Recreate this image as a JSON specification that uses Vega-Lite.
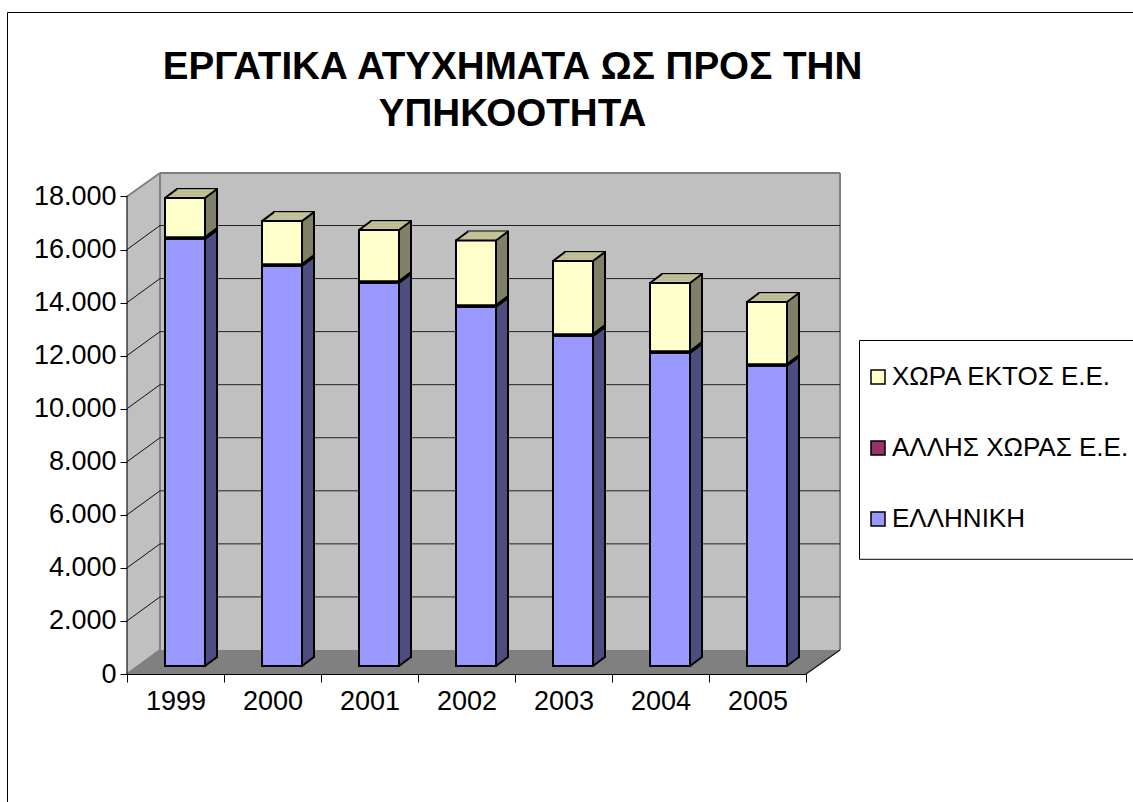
{"$schema":"https://vega.github.io/schema/vega-lite/v6.json","width":713,"height":501,"autosize":"none","padding":{"left":127,"top":173,"right":293,"bottom":128},"background":"white",
"config":{"view":{"stroke":null}},
"datasets":{
"boxes":[{"name":"frame","x":-119.5,"x2":1030,"y":24934,"y2":-6000},{"name":"legend","x":732.5,"x2":1030,"y":12571,"y2":4323}],
"titleLines":[{"text":"ΕΡΓΑΤΙΚΑ ΑΤΥΧΗΜΑΤΑ ΩΣ ΠΡΟΣ ΤΗΝ","x":385.5,"y":22430},{"text":"ΥΠΗΚΟΟΤΗΤΑ","x":385.5,"y":20660}],
"wallLeft":[{"d":0,"lo":0,"hi":18000},{"d":33,"lo":905,"hi":18884}],
"floor":[{"d":0,"lo":0,"hi":0},{"d":33,"lo":0,"hi":905},{"d":679,"lo":0,"hi":905},{"d":713,"lo":905,"hi":905}],
"grid":[{"v":2000,"back":2905},{"v":4000,"back":4905},{"v":6000,"back":6905},{"v":8000,"back":8905},{"v":10000,"back":10905},{"v":12000,"back":12905},{"v":14000,"back":14905},{"v":16000,"back":16905}],
"accidents":[
{"year":"1999","series":"ΕΛΛΗΝΙΚΗ","rank":1,"value":16100},{"year":"1999","series":"ΑΛΛΗΣ ΧΩΡΑΣ Ε.Ε.","rank":2,"value":60},{"year":"1999","series":"ΧΩΡΑ ΕΚΤΟΣ Ε.Ε.","rank":3,"value":1480},
{"year":"2000","series":"ΕΛΛΗΝΙΚΗ","rank":1,"value":15085},{"year":"2000","series":"ΑΛΛΗΣ ΧΩΡΑΣ Ε.Ε.","rank":2,"value":60},{"year":"2000","series":"ΧΩΡΑ ΕΚΤΟΣ Ε.Ε.","rank":3,"value":1625},
{"year":"2001","series":"ΕΛΛΗΝΙΚΗ","rank":1,"value":14444},{"year":"2001","series":"ΑΛΛΗΣ ΧΩΡΑΣ Ε.Ε.","rank":2,"value":60},{"year":"2001","series":"ΧΩΡΑ ΕΚΤΟΣ Ε.Ε.","rank":3,"value":1930},
{"year":"2002","series":"ΕΛΛΗΝΙΚΗ","rank":1,"value":13540},{"year":"2002","series":"ΑΛΛΗΣ ΧΩΡΑΣ Ε.Ε.","rank":2,"value":60},{"year":"2002","series":"ΧΩΡΑ ΕΚΤΟΣ Ε.Ε.","rank":3,"value":2440},
{"year":"2003","series":"ΕΛΛΗΝΙΚΗ","rank":1,"value":12440},{"year":"2003","series":"ΑΛΛΗΣ ΧΩΡΑΣ Ε.Ε.","rank":2,"value":60},{"year":"2003","series":"ΧΩΡΑ ΕΚΤΟΣ Ε.Ε.","rank":3,"value":2765},
{"year":"2004","series":"ΕΛΛΗΝΙΚΗ","rank":1,"value":11806},{"year":"2004","series":"ΑΛΛΗΣ ΧΩΡΑΣ Ε.Ε.","rank":2,"value":60},{"year":"2004","series":"ΧΩΡΑ ΕΚΤΟΣ Ε.Ε.","rank":3,"value":2570},
{"year":"2005","series":"ΕΛΛΗΝΙΚΗ","rank":1,"value":11316},{"year":"2005","series":"ΑΛΛΗΣ ΧΩΡΑΣ Ε.Ε.","rank":2,"value":60},{"year":"2005","series":"ΧΩΡΑ ΕΚΤΟΣ Ε.Ε.","rank":3,"value":2344}
]},
"layer":[
{"layer":[
{"data":{"name":"boxes"},"mark":{"type":"rect","fill":"white","stroke":"black","strokeWidth":1},"encoding":{"x":{"field":"x","type":"quantitative","scale":{"domain":[0,713],"nice":false,"zero":false},"axis":null},"x2":{"field":"x2"},"y":{"field":"y","type":"quantitative","scale":{"domain":[0,18884],"nice":false},"axis":null},"y2":{"field":"y2"}}},
{"data":{"name":"titleLines"},"mark":{"type":"text","font":"Liberation Sans","fontSize":38.6,"fontWeight":"bold","color":"black","align":"center","baseline":"alphabetic"},"encoding":{"x":{"field":"x","type":"quantitative","axis":null},"y":{"field":"y","type":"quantitative","axis":null},"text":{"field":"text"}}},
{"data":{"name":"wallLeft"},"mark":{"type":"area","fill":"#c0c0c0","stroke":null},"encoding":{"x":{"field":"d","type":"quantitative","axis":null},"y":{"field":"lo","type":"quantitative","axis":null},"y2":{"field":"hi"}}},
{"data":{"name":"floor"},"mark":{"type":"area","fill":"#808080","stroke":null},"encoding":{"x":{"field":"d","type":"quantitative","axis":null},"y":{"field":"lo","type":"quantitative","axis":null},"y2":{"field":"hi"}}},
{"data":{"values":[{"a":33,"b":713,"lo":905,"hi":18884}]},"mark":{"type":"rect","fill":"#c0c0c0","stroke":null},"encoding":{"x":{"field":"a","type":"quantitative","axis":null},"x2":{"field":"b"},"y":{"field":"lo","type":"quantitative","axis":null},"y2":{"field":"hi"}}},
{"data":{"values":[{"a":33,"b":33,"lo":905,"hi":18884},{"a":33,"b":713,"lo":18884,"hi":18884},{"a":713,"b":713,"lo":905,"hi":18884},{"a":0,"b":33,"lo":18000,"hi":18884},{"a":0,"b":33,"lo":0,"hi":905}]},"mark":{"type":"rule","color":"#808080","strokeWidth":2},"encoding":{"x":{"field":"a","type":"quantitative","axis":null},"x2":{"field":"b"},"y":{"field":"lo","type":"quantitative","axis":null},"y2":{"field":"hi"}}},
{"data":{"name":"grid"},"mark":{"type":"rule","color":"#111111","strokeWidth":1},"encoding":{"x":{"datum":0,"type":"quantitative","axis":null},"x2":{"datum":33},"y":{"field":"v","type":"quantitative","axis":null},"y2":{"field":"back"}}},
{"data":{"name":"grid"},"mark":{"type":"rule","color":"#222222","strokeWidth":1},"encoding":{"x":{"datum":33,"type":"quantitative","axis":null},"x2":{"datum":713},"y":{"field":"back","type":"quantitative","axis":null}}},
{"data":{"values":[{"a":0,"b":0,"lo":0,"hi":18000},{"a":679,"b":713,"lo":0,"hi":905}]},"mark":{"type":"rule","color":"#111111","strokeWidth":1.2},"encoding":{"x":{"field":"a","type":"quantitative","axis":null},"x2":{"field":"b"},"y":{"field":"lo","type":"quantitative","axis":null},"y2":{"field":"hi"}}}
]},
{"data":{"name":"accidents"},
"transform":[{"stack":"value","groupby":["year"],"sort":[{"field":"rank","order":"ascending"}],"as":["y0","y1"]}],
"encoding":{"x":{"field":"year","type":"nominal","title":null,"scale":{"range":[0,679],"paddingInner":0,"paddingOuter":0},"axis":{"labelAngle":0,"labelFont":"Liberation Sans","labelFontSize":27,"labelColor":"black","labelPadding":6,"tickSize":8,"tickColor":"black","domainColor":"black","tickBand":"extent","zindex":1}},
"y":{"field":"y1","type":"quantitative","title":null,"scale":{"domain":[0,18884],"nice":false},"axis":{"values":[0,2000,4000,6000,8000,10000,12000,14000,16000,18000],"domain":false,"grid":false,"tickSize":7,"tickColor":"black","labelFont":"Liberation Sans","labelFontSize":27,"labelColor":"black","labelPadding":4,"labelExpr":"replace(format(datum.value,','),',','.')","zindex":1}}},
"layer":[
{"encoding":{"y2":{"field":"y0"},"color":{"field":"series","type":"nominal","legend":null,"scale":{"domain":["ΧΩΡΑ ΕΚΤΟΣ Ε.Ε.","ΑΛΛΗΣ ΧΩΡΑΣ Ε.Ε.","ΕΛΛΗΝΙΚΗ"],"range":["#808066","#4d1933","#4d4d80"]}}},
"layer":[
{"mark":{"type":"bar","size":40,"xOffset":21.5,"yOffset":-17,"y2Offset":-17,"stroke":"black","strokeWidth":2}},
{"mark":{"type":"bar","size":40,"xOffset":20.5,"yOffset":-16.25,"y2Offset":-16.25}},
{"mark":{"type":"bar","size":40,"xOffset":19.5,"yOffset":-15.5,"y2Offset":-15.5}},
{"mark":{"type":"bar","size":40,"xOffset":18.5,"yOffset":-14.75,"y2Offset":-14.75}},
{"mark":{"type":"bar","size":40,"xOffset":17.5,"yOffset":-14,"y2Offset":-14}},
{"mark":{"type":"bar","size":40,"xOffset":16.5,"yOffset":-13.25,"y2Offset":-13.25}},
{"mark":{"type":"bar","size":40,"xOffset":15.5,"yOffset":-12.5,"y2Offset":-12.5}},
{"mark":{"type":"bar","size":40,"xOffset":14.5,"yOffset":-11.75,"y2Offset":-11.75}},
{"mark":{"type":"bar","size":40,"xOffset":13.5,"yOffset":-11,"y2Offset":-11}},
{"mark":{"type":"bar","size":40,"xOffset":12.5,"yOffset":-10.25,"y2Offset":-10.25}},
{"mark":{"type":"bar","size":40,"xOffset":11.5,"yOffset":-9.5,"y2Offset":-9.5}},
{"mark":{"type":"bar","size":40,"xOffset":10.5,"yOffset":-8.75,"y2Offset":-8.75}}
]},
{"transform":[{"filter":"datum.rank==3"}],
"layer":[
{"mark":{"type":"tick","size":40,"thickness":1.2,"color":"#c4c49a","opacity":1,"xOffset":20.5,"yOffset":-16.25}},
{"mark":{"type":"tick","size":40,"thickness":1.2,"color":"#c4c49a","opacity":1,"xOffset":19.5,"yOffset":-15.5}},
{"mark":{"type":"tick","size":40,"thickness":1.2,"color":"#c4c49a","opacity":1,"xOffset":18.5,"yOffset":-14.75}},
{"mark":{"type":"tick","size":40,"thickness":1.2,"color":"#c4c49a","opacity":1,"xOffset":17.5,"yOffset":-14}},
{"mark":{"type":"tick","size":40,"thickness":1.2,"color":"#c4c49a","opacity":1,"xOffset":16.5,"yOffset":-13.25}},
{"mark":{"type":"tick","size":40,"thickness":1.2,"color":"#c4c49a","opacity":1,"xOffset":15.5,"yOffset":-12.5}},
{"mark":{"type":"tick","size":40,"thickness":1.2,"color":"#c4c49a","opacity":1,"xOffset":14.5,"yOffset":-11.75}},
{"mark":{"type":"tick","size":40,"thickness":1.2,"color":"#c4c49a","opacity":1,"xOffset":13.5,"yOffset":-11}},
{"mark":{"type":"tick","size":40,"thickness":1.2,"color":"#c4c49a","opacity":1,"xOffset":12.5,"yOffset":-10.25}},
{"mark":{"type":"tick","size":40,"thickness":1.2,"color":"#c4c49a","opacity":1,"xOffset":11.5,"yOffset":-9.5}},
{"mark":{"type":"tick","size":40,"thickness":1.2,"color":"#c4c49a","opacity":1,"xOffset":10.5,"yOffset":-8.75}}
]},
{"mark":{"type":"rule","color":"black","strokeWidth":2,"xOffset":29.5,"x2Offset":41.5,"yOffset":-8,"y2Offset":-17},"encoding":{"x2":{"field":"year"},"y2":{"field":"y1"}}},
{"mark":{"type":"rule","color":"black","strokeWidth":2,"xOffset":29.5,"x2Offset":41.5,"yOffset":-8,"y2Offset":-17},"encoding":{"x2":{"field":"year"},"y":{"field":"y0","type":"quantitative"},"y2":{"field":"y0"}}},
{"transform":[{"filter":"datum.rank==3"}],"mark":{"type":"rule","color":"black","strokeWidth":2,"xOffset":-10.5,"x2Offset":1.5,"yOffset":-8,"y2Offset":-17},"encoding":{"x2":{"field":"year"},"y2":{"field":"y1"}}},
{"mark":{"type":"bar","size":40,"xOffset":9.5,"yOffset":-8,"y2Offset":-8,"stroke":"black","strokeWidth":2},"encoding":{"y2":{"field":"y0"},"color":{"field":"series","type":"nominal","scale":{"domain":["ΧΩΡΑ ΕΚΤΟΣ Ε.Ε.","ΑΛΛΗΣ ΧΩΡΑΣ Ε.Ε.","ΕΛΛΗΝΙΚΗ"],"range":["#ffffcc","#993366","#9999ff"]},"legend":{"title":null,"orient":"none","legendX":738,"legendY":191,"padding":0,"symbolType":"square","symbolSize":196,"symbolStrokeColor":"black","symbolStrokeWidth":1.5,"symbolOpacity":1,"labelFont":"Liberation Sans","labelFontSize":26,"labelColor":"black","labelLimit":400,"labelOffset":1,"rowPadding":45}}}}
],
"resolve":{"scale":{"color":"independent"}}}
],
"resolve":{"scale":{"x":"independent","y":"independent"}}}
